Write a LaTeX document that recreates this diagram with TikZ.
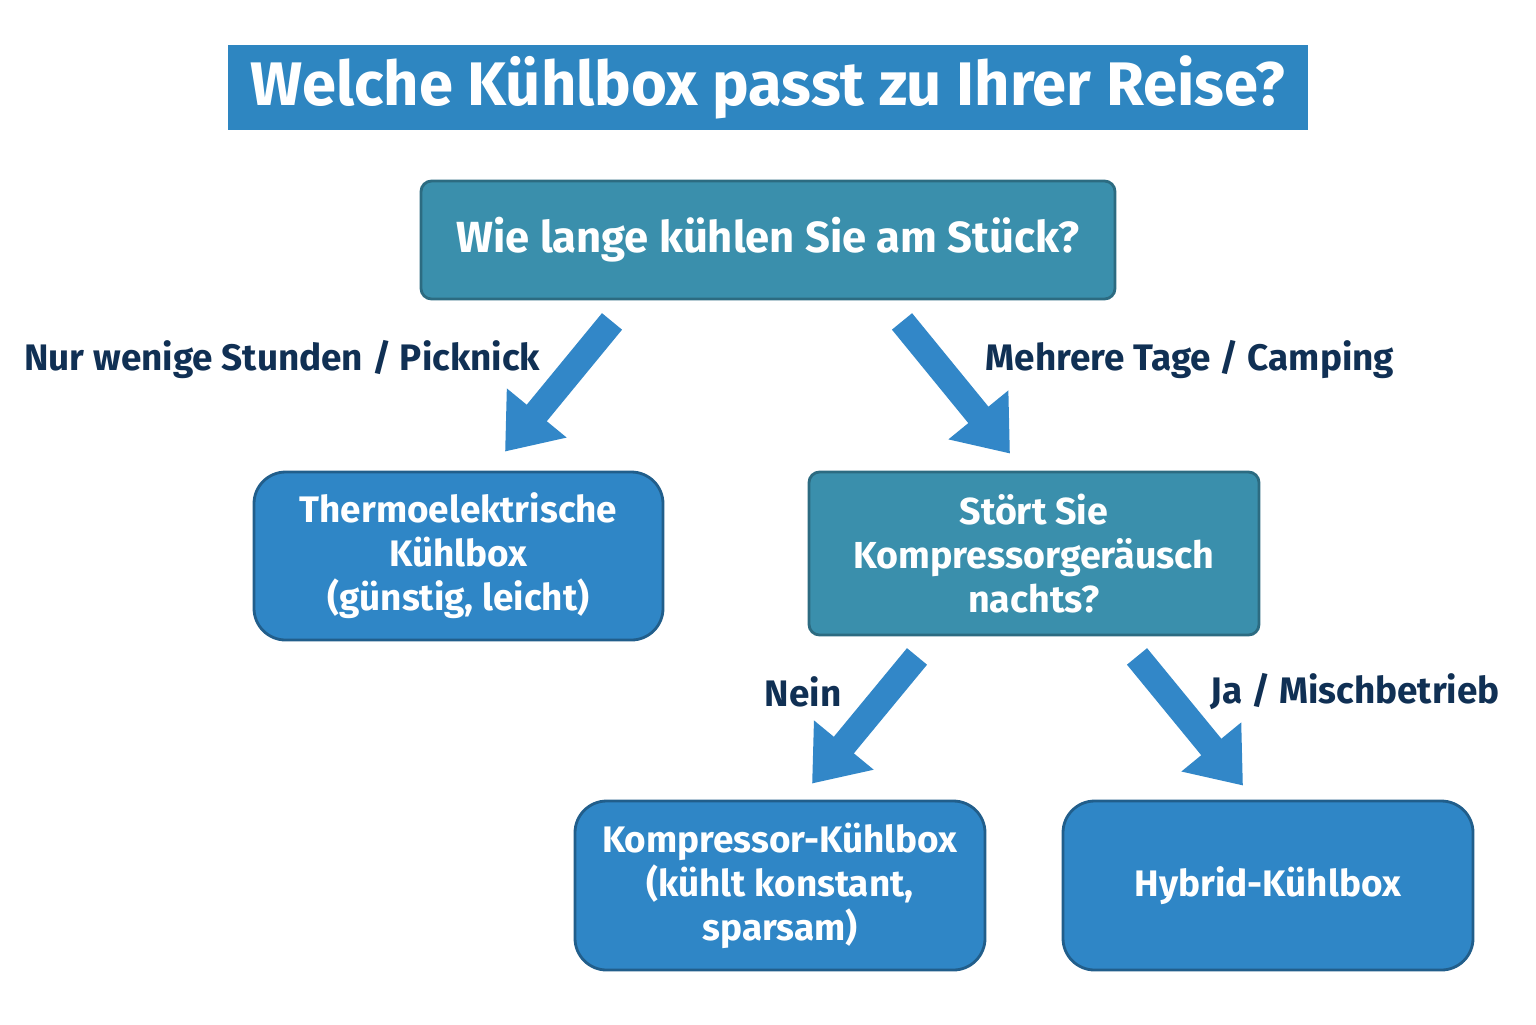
\documentclass[tikz,border=0pt]{standalone}
\usepackage{fontspec}
\setmainfont{Fira Sans}
\usetikzlibrary{arrows.meta, positioning, calc}
\definecolor{clrTitle}{RGB}{ 46,134,193}
\definecolor{clrTeal} {RGB}{ 58,143,172}
\definecolor{clrBox}  {RGB}{ 47,134,198}
\definecolor{clrArr}  {RGB}{ 50,135,200}
\definecolor{clrLab}  {RGB}{ 16, 48, 84}

\begin{document}
\begin{tikzpicture}[
  %% ── node styles ──────────────────────────────────────────────────────────
  tnode/.style = {rectangle, minimum width=10.8cm, minimum height=8.5mm,
                  inner sep=0pt, fill=clrTitle, text=white,
                  font=\fontsize{17.5}{20}\selectfont\bfseries},
  qnode/.style = {rectangle, rounded corners=3pt, align=center,
                  inner sep=0pt, draw=clrTeal!75!black, line width=0.8pt,
                  fill=clrTeal, text=white,
                  font=\fontsize{12.4}{13}\selectfont\bfseries},
  anode/.style = {rectangle, rounded corners=9pt, align=center,
                  inner sep=0pt, draw=clrBox!70!black, line width=0.8pt,
                  fill=clrBox, text=white,
                  font=\fontsize{10.5}{12.5}\selectfont\bfseries},
  %% ── arrow / label styles ─────────────────────────────────────────────────
  arr/.style  = {-{Triangle[length=5mm, width=7.4mm]}, line width=2.6mm,
                 color=clrArr},
  lab/.style  = {font=\fontsize{10.5}{12}\selectfont\bfseries,
                 text=clrLab, inner sep=0pt},
]
\useasboundingbox (0,0) rectangle (15.36,-10.24);

%% ═══════════════════════════════════════════════════════════════════════════
%% TITLE + FIRST QUESTION
%% ═══════════════════════════════════════════════════════════════════════════
\node[tnode] (title) at (7.68,-0.87) {Welche Kühlbox passt zu Ihrer Reise?};
\node[qnode, minimum width=6.94cm, minimum height=1.18cm]
      (dauer) at (7.68,-2.40) {Wie lange kühlen Sie am Stück?};

%% ═══════════════════════════════════════════════════════════════════════════
%% MIDDLE ROW: thermo box left, second question right
%% ═══════════════════════════════════════════════════════════════════════════
\node[anode, minimum width=4.09cm, minimum height=1.68cm]
      (thermo) at (4.585,-5.56) {Thermoelektrische\\Kühlbox\\(günstig, leicht)};
\node[qnode, minimum width=4.50cm, minimum height=1.63cm,
      font=\fontsize{10.7}{12.5}\selectfont\bfseries]
      (laerm) at (10.34,-5.535) {Stört Sie\\Kompressorgeräusch\\nachts?};

%% ═══════════════════════════════════════════════════════════════════════════
%% BOTTOM ROW
%% ═══════════════════════════════════════════════════════════════════════════
\node[anode, minimum width=4.10cm, minimum height=1.69cm]
      (kompr) at (7.80,-8.855) {Kompressor-Kühlbox\\(kühlt konstant,\\sparsam)};
\node[anode, minimum width=4.10cm, minimum height=1.69cm]
      (hybrid) at (12.68,-8.855) {Hybrid-Kühlbox};

%% ── arrow end points ──────────────────────────────────────────────────────
\coordinate (d1) at ($(dauer.south)+(-1.56,-0.21)$);
\coordinate (t1) at ($(thermo.north)+(0.465,0.19)$);
\coordinate (d2) at ($(dauer.south)+(1.34,-0.21)$);
\coordinate (l1) at ($(laerm.north)+(-0.24,0.17)$);
\coordinate (l2) at ($(laerm.south)+(-1.17,-0.20)$);
\coordinate (k1) at ($(kompr.north)+(0.32,0.16)$);
\coordinate (l3) at ($(laerm.south)+(1.03,-0.20)$);
\coordinate (h1) at ($(hybrid.north)+(-0.25,0.14)$);

%% ── arrows ────────────────────────────────────────────────────────────────
\draw[arr] (d1) -- (t1);
\draw[arr] (d2) -- (l1);
\draw[arr] (l2) -- (k1);
\draw[arr] (l3) -- (h1);

%% ── labels next to arrows ─────────────────────────────────────────────────
\node[lab, anchor=east] (lkurz) at (5.41,-3.60) {Nur wenige Stunden / Picknick};
\node[lab, anchor=west] (llang) at (9.85,-3.60) {Mehrere Tage / Camping};
\node[lab, anchor=east] (lnein) at (8.42,-6.92) {Nein};
\node[lab, anchor=west] (lja)   at (12.10,-6.92) {Ja / Mischbetrieb};

\end{tikzpicture}
\end{document}
